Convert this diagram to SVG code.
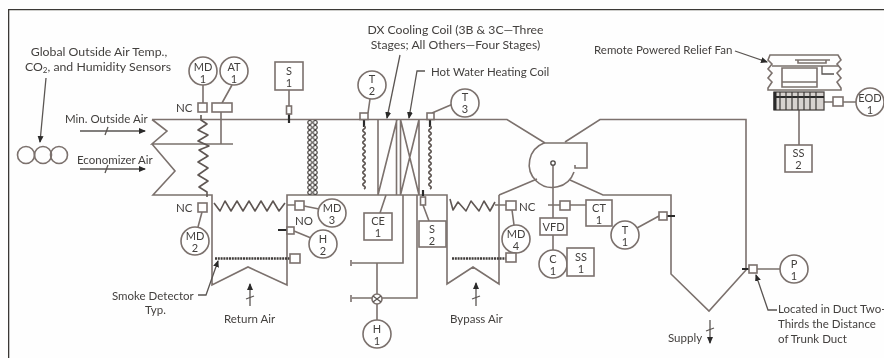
<svg xmlns="http://www.w3.org/2000/svg" width="884" height="358" viewBox="0 0 884 358">
<style>
.l{fill:none;stroke:#7b716d;stroke-width:1.6;stroke-linejoin:miter}
.d{fill:none;stroke:#5f5753;stroke-width:1.6;stroke-linejoin:round}
.k{fill:none;stroke:#2c2a29;stroke-width:2.2}
.a{fill:none;stroke:#5a5552;stroke-width:1.3}
.n{fill:#fff;stroke:#7b716d;stroke-width:1.6}
text{font-family:Lato,"Open Sans",sans-serif;font-size:11.5px;fill:#423f3d}
.m{text-anchor:middle}
.i{font-size:11px;text-anchor:middle}
</style>
<defs>
<marker id="ah" markerWidth="7" markerHeight="6" refX="6" refY="3" orient="auto" markerUnits="userSpaceOnUse"><path d="M0 0L7 3L0 6z" fill="#2c2a29"/></marker>
<pattern id="chain" width="5.5" height="5" patternUnits="userSpaceOnUse" x="307" y="120"><circle cx="2.75" cy="2.5" r="2" fill="none" stroke="#4a4543" stroke-width="1.2"/></pattern>
<filter id="soft" x="0" y="0" width="100%" height="100%"><feGaussianBlur stdDeviation="0.4"/></filter>
</defs>
<rect width="884" height="358" fill="#fefefe"/>
<g filter="url(#soft)">
<path d="M8.500 358V9.500H884" fill="none" stroke="#3a3836" stroke-width="1.6"/>

<g id="connectors">
<path class="l" d="M152 119.500H507L545 143M152 119.500L167 131L152 144H233M152 144L175 171L153 195H212V285L248 267L287 285V195H447V284L473 267L499 284V195"/>
<path class="l" d="M499 195L537 179M565 142L600 119.500H746V270L709 311L671 274V195H603L570 180"/>
<path class="l" d="M544 143H587V168H575V165M544 143A23 23 0 1 0 574 172"/>
<path class="l" d="M378 119.500V195M396.500 119.500V195M400.500 119.500V195M419 119.500V195M378 195L397 119.500M400.500 119.500L419 195M419 119.500L400.500 195"/>
<path class="l" d="M403 195V263H352M351 260V266M417 195V298H352M351 295V302M377 263V320"/>
<path class="l" d="M203 85V103M232 85L222 103M221 112V144M289 90V106M368 113L370 99M432 113L453 104M386 195L380 213M423 205L429 221M202 212L198 227M287 205H295M304 206L319 209M294 231L311 238M495 205H506M512 210L514 225M553 165V218M553 235V250M548 205H560M570 205H586M637 228L659 216M757 269H780M799 110V145M824 102H833M843 102H856"/>
<path class="k" d="M289 114V123M364 120V127M430 120V127M423 190V196M667 216H675M742 269H749M278 230H287"/>
<path class="d" d="M201 115V120L207 124L198 130L208 135L198 141L209 146L199 150L208 156L198 162L208 168L198 175L208 181L199 187L207 192V197"/>
<path class="d" d="M214 203L220 211L225 201L231 211L237 201L243 211L249 201L255 211L261 201L267 211L273 201L279 211L285 203"/>
<path class="d" d="M450 199L453 210L458 202L466 211L471 201L479 211L484 201L490 211L495 202"/>
<path class="d" d="M364 126q2.500 1.500 0 3t0 3t0 3t0 3t0 3t0 3t0 3t0 3t0 3t0 3t0 3t0 3t0 3t0 3t0 3t0 3t0 3t0 3t0 3t0 3t0 3"/>
<path class="d" d="M430 126q2.500 1.500 0 3t0 3t0 3t0 3t0 3t0 3t0 3t0 3t0 3t0 3t0 3t0 3t0 3t0 3t0 3t0 3t0 3t0 3t0 3t0 3t0 3"/>
<path d="M215 258.500H290M452 258.500H506" fill="none" stroke="#3f3b39" stroke-width="2.400" stroke-dasharray="2 .8"/>
<path class="a" d="M80 131H145" marker-end="url(#ah)"/><path class="a" d="M105 135L108 127"/>
<path class="a" d="M80 169H145" marker-end="url(#ah)"/><path class="a" d="M105 173L108 165"/>
<path class="a" d="M250 306V284" marker-end="url(#ah)"/><path class="a" d="M246 299L254 296"/>
<path class="a" d="M476 306V283" marker-end="url(#ah)"/><path class="a" d="M472 299L480 296"/>
<path class="a" d="M710 320V343" marker-end="url(#ah)"/><path class="a" d="M706 331L714 328"/>
<path class="a" d="M46 78L40 142" marker-end="url(#ah)"/>
<path class="a" d="M400 55L387 118" marker-end="url(#ah)"/>
<path class="a" d="M425 71H417L409 118" marker-end="url(#ah)"/>
<path class="a" d="M735 51L767 62" marker-end="url(#ah)"/>
<path class="a" d="M198 295H206L218 261" marker-end="url(#ah)"/>
<path class="a" d="M777 310H768L756 275" marker-end="url(#ah)"/>
</g>

<g id="sensors-global"><circle class="l" cx="26" cy="155" r="8.500"/><circle class="l" cx="43" cy="155" r="8.500"/><circle class="l" cx="59" cy="155" r="8.500"/></g>
<g id="filter"><rect x="307" y="120" width="11" height="75" fill="url(#chain)"/></g>

<g id="MD1"><rect class="n" x="198" y="103" width="9" height="9"/><circle class="n" cx="203" cy="71" r="14"/><text class="i" x="203" y="70.500">MD</text><text class="i" x="203" y="82.500">1</text></g>
<g id="AT1"><rect class="n" x="212" y="103" width="20" height="9"/><circle class="n" cx="234" cy="71" r="14"/><text class="i" x="234" y="70.500">AT</text><text class="i" x="234" y="82.500">1</text></g>
<g id="S1"><rect class="n" x="275" y="62" width="28" height="28"/><rect class="n" x="286.500" y="106" width="5" height="8"/><text class="i" x="289" y="74.500">S</text><text class="i" x="289" y="86.500">1</text></g>
<g id="T2"><rect class="n" x="360" y="113" width="8" height="6.500"/><circle class="n" cx="372" cy="85" r="14"/><text class="i" x="372" y="82.500">T</text><text class="i" x="372" y="94.500">2</text></g>
<g id="T3"><rect class="n" x="427" y="113" width="7" height="6.500"/><circle class="n" cx="465" cy="103" r="14"/><text class="i" x="465" y="100.500">T</text><text class="i" x="465" y="112.500">3</text></g>
<g id="MD2"><rect class="n" x="198" y="203" width="9" height="9"/><circle class="n" cx="195" cy="241" r="14"/><text class="i" x="195" y="239.500">MD</text><text class="i" x="195" y="251.500">2</text></g>
<g id="MD3"><rect class="n" x="295" y="201" width="9" height="9"/><circle class="n" cx="332" cy="213" r="14"/><text class="i" x="332" y="211.500">MD</text><text class="i" x="332" y="223.500">3</text></g>
<g id="H2"><rect class="n" x="287" y="227" width="7" height="7"/><circle class="n" cx="323" cy="244" r="14"/><text class="i" x="323" y="242.500">H</text><text class="i" x="323" y="254.500">2</text></g>
<g id="smoke-return"><rect class="n" x="290" y="254" width="10" height="9"/></g>
<g id="CE1"><rect class="n" x="364" y="213" width="28" height="27"/><text class="i" x="378" y="224.500">CE</text><text class="i" x="378" y="236.500">1</text></g>
<g id="S2"><rect class="n" x="420.500" y="197" width="5" height="8"/><rect class="n" x="419" y="221" width="27" height="26"/><text class="i" x="432" y="232.500">S</text><text class="i" x="432" y="244.500">2</text></g>
<g id="valve"><circle class="n" cx="377" cy="299" r="5"/><path class="a" d="M373 296L381 302M381 296L373 302"/></g>
<g id="H1"><circle class="n" cx="377" cy="334" r="14"/><text class="i" x="377" y="332.500">H</text><text class="i" x="377" y="344.500">1</text></g>
<g id="MD4"><rect class="n" x="506" y="201" width="10" height="9"/><circle class="n" cx="516" cy="239" r="14"/><text class="i" x="516" y="237.500">MD</text><text class="i" x="516" y="249.500">4</text></g>
<g id="smoke-bypass"><rect class="n" x="506" y="253" width="10" height="9"/></g>
<g id="fan-shaft"><circle cx="553" cy="163" r="2.200" fill="#fff" stroke="#4a4543" stroke-width="1.300"/></g>
<g id="VFD"><rect class="n" x="540" y="218" width="27" height="17"/><text class="i" x="553.500" y="230.500">VFD</text></g>
<g id="damper-ct"><rect class="n" x="560" y="201" width="10" height="9"/></g>
<g id="CT1"><rect class="n" x="586" y="200" width="26" height="26"/><text class="i" x="599" y="211.500">CT</text><text class="i" x="599" y="223.500">1</text></g>
<g id="C1"><circle class="n" cx="553" cy="264" r="14"/><text class="i" x="553" y="262.500">C</text><text class="i" x="553" y="274.500">1</text></g>
<g id="SS1"><rect class="n" x="567" y="248" width="27" height="28"/><text class="i" x="581" y="260.500">SS</text><text class="i" x="581" y="272.500">1</text></g>
<g id="T1"><rect class="n" x="659" y="212" width="8" height="8"/><circle class="n" cx="625" cy="235" r="14"/><text class="i" x="625" y="233.500">T</text><text class="i" x="625" y="245.500">1</text></g>
<g id="P1"><rect class="n" x="749" y="265" width="8" height="8"/><circle class="n" cx="794" cy="269" r="14"/><text class="i" x="794" y="267.500">P</text><text class="i" x="794" y="279.500">1</text></g>

<g id="relief-fan">
<path class="l" d="M770 55H838L841 60L837 64L841 69L837 73L841 78L837 82L841 88V90H768V88L772 82L768 78L772 73L768 69L772 64L768 60z"/>
<path class="l" d="M772 66H838M782 68H817V87H782zM782 82H817M795 60H830M798 60V63H826V60"/>
<path class="a" d="M822 66V74H834"/>
<rect x="774" y="92" width="50" height="18" fill="#d6d2cf" stroke="#4a4543" stroke-width="1.300"/>
<path d="M775 92V110" stroke="#2c2a29" stroke-width="3"/>
<path d="M774 97H824" fill="none" stroke="#2c2a29" stroke-width="1.800"/>
<path d="M780 92V110M786 92V110M792 92V110M798 92V110M804 92V110M810 92V110M816 92V110" fill="none" stroke="#3a3836" stroke-width="1.200"/>
</g>
<g id="damper-eod"><rect class="n" x="833" y="97" width="10" height="9"/></g>
<g id="EOD1"><circle class="n" cx="870" cy="102" r="14"/><text class="i" x="870" y="101.500">EOD</text><text class="i" x="870" y="113.500">1</text></g>
<g id="SS2"><rect class="n" x="785" y="145" width="27" height="27"/><text class="i" x="798.500" y="156.500">SS</text><text class="i" x="798.500" y="168.500">2</text></g>

<g id="labels">
<text class="m" x="99" y="56" style="font-size:12.300px">Global Outside Air Temp.,</text>
<text class="m" x="98" y="71" style="font-size:12.300px">CO<tspan style="font-size:8px" dy="2">2</tspan><tspan dy="-2">, and Humidity Sensors</tspan></text>
<text x="65" y="123">Min. Outside Air</text>
<text x="77" y="164">Economizer Air</text>
<text x="176" y="112">NC</text>
<text x="176" y="212">NC</text>
<text x="295" y="225">NO</text>
<text x="519" y="211">NC</text>
<text class="m" x="455.500" y="34" style="font-size:12.200px">DX Cooling Coil (3B &amp; 3C—Three</text>
<text class="m" x="455.500" y="49" style="font-size:12.200px">Stages; All Others—Four Stages)</text>
<text x="431" y="76">Hot Water Heating Coil</text>
<text x="594" y="54">Remote Powered Relief Fan</text>
<text x="112" y="300">Smoke Detector</text>
<text x="145" y="314">Typ.</text>
<text x="224" y="323">Return Air</text>
<text x="450" y="323">Bypass Air</text>
<text x="668" y="342">Supply</text>
<text x="778" y="313">Located in Duct Two-</text>
<text x="778" y="328">Thirds the Distance</text>
<text x="778" y="343">of Trunk Duct</text>
</g>
</g>
</svg>
